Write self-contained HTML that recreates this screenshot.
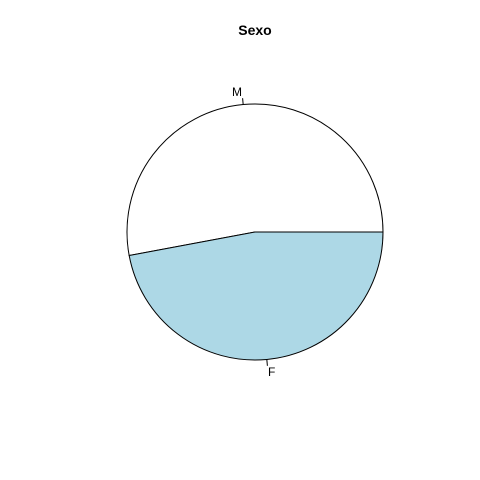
<!DOCTYPE html>
<html><head><meta charset="utf-8"><style>body{margin:0;background:#fff}svg{display:block}text{font-family:"Liberation Sans",sans-serif}</style></head>
<body>
<svg id="chart" width="480" height="480" xmlns="http://www.w3.org/2000/svg">
<rect width="480" height="480" fill="#fff"/>
<text x="255" y="35" text-anchor="middle" font-size="14" font-weight="bold">Sexo</text>
</svg>
<script>
const categories = ["M", "F"];
const values = [9, 8];
const colors = ["#ffffff", "#add8e6"];
const svg = document.getElementById('chart');
const NS = "http://www.w3.org/2000/svg";
const cx = 255, cy = 232, r = 128;
const total = values.reduce((a,b)=>a+b,0);
function pt(a, rr){ return [cx + rr*Math.cos(a), cy - rr*Math.sin(a)]; }
let start = 0;
values.forEach((v,i)=>{
  const ang = v/total*2*Math.PI;
  const end = start + ang;
  const p0 = pt(start, r), p1 = pt(end, r);
  const large = ang > Math.PI ? 1 : 0;
  const path = document.createElementNS(NS,'path');
  path.setAttribute('d', `M${cx},${cy} L${p0[0]},${p0[1]} A${r},${r} 0 ${large} 0 ${p1[0]},${p1[1]} Z`);
  path.setAttribute('fill', colors[i]);
  path.setAttribute('stroke', '#000');
  path.setAttribute('stroke-width', '1');
  
  
  svg.appendChild(path);
  const mid = start + ang/2;
  const t0 = pt(mid, r), t1 = pt(mid, r*1.05), tl = pt(mid, r*1.1);
  const line = document.createElementNS(NS,'line');
  line.setAttribute('x1', t0[0]); line.setAttribute('y1', t0[1]);
  line.setAttribute('x2', t1[0]); line.setAttribute('y2', t1[1]);
  line.setAttribute('stroke', '#000');
  
  
  svg.appendChild(line);
  const txt = document.createElementNS(NS,'text');
  txt.setAttribute('x', tl[0]); txt.setAttribute('y', tl[1] + 4);
  txt.setAttribute('font-size', '12');
  txt.setAttribute('text-anchor', Math.cos(mid) < 0 ? 'end' : 'start');
  
  
  txt.textContent = categories[i];
  svg.appendChild(txt);
  start = end;
});
</script>
</body></html>
